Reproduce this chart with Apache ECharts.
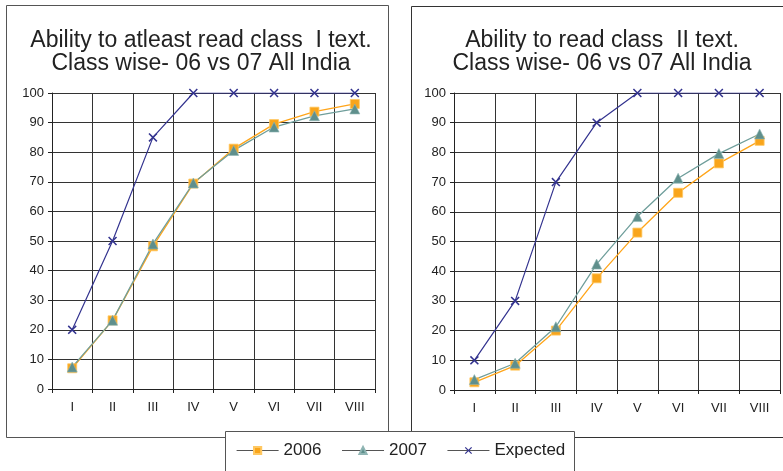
<!DOCTYPE html>
<html>
<head>
<meta charset="utf-8">
<script src="https://cdn.jsdelivr.net/npm/echarts@6/dist/echarts.min.js"></script>
<style>
html,body{margin:0;padding:0;background:#fff;}
#c{width:783px;height:471px;}
</style>
</head>
<body>
<div id="c"></div>
<script>
const categories = ['I','II','III','IV','V','VI','VII','VIII'];
const yTicks = [0,10,20,30,40,50,60,70,80,90,100];
const leftTitle = 'Ability to atleast read class  I text.\nClass wise- 06 vs 07 All India';
const rightTitle = 'Ability to read class  II text.\nClass wise- 06 vs 07 All India';
const left2006 = [7, 23.2, 48.2, 69.4, 81.2, 89.5, 93.7, 96.3];
const left2007 = [7.4, 23.2, 49, 69.6, 80.6, 88.5, 92.3, 94.6];
const leftExpected = [20, 50, 85, 100, 100, 100, 100, 100];
const right2006 = [2.6, 8.2, 20, 37.6, 53, 66.4, 76.3, 83.9];
const right2007 = [3.5, 9, 21.3, 42.4, 58.4, 71.3, 79.6, 86.2];
const rightExpected = [10, 30, 70, 90, 100, 100, 100, 100];
const seriesNames = ['2006','2007','Expected'];

const FONT = 'Liberation Sans, Arial, sans-serif';
const C06 = '#F9A51B', C07 = '#5F8F8C', CEX = '#33338F';
const XSYM = 'path://M0,1.2L1.2,0L5,3.8L8.8,0L10,1.2L6.2,5L10,8.8L8.8,10L5,6.2L1.2,10L0,8.8L3.8,5Z';

const chart = echarts.init(document.getElementById('c'), null, {renderer:'canvas'});

function xAx(gi){
  return {type:'category', gridIndex:gi, data:categories, boundaryGap:true,
    axisLine:{lineStyle:{color:'#222',width:1}},
    axisTick:{show:true,length:4,lineStyle:{color:'#222'}},
    axisLabel:{color:'#222',fontSize:13,fontFamily:FONT,margin:12},
    splitLine:{show:true,lineStyle:{color:'#333',width:1}}};
}
function yAx(gi){
  return {type:'value', gridIndex:gi, min:yTicks[0], max:yTicks[yTicks.length-1], interval:10,
    axisLine:{show:true,lineStyle:{color:'#222',width:1}},
    axisTick:{show:true,length:4,lineStyle:{color:'#222'}},
    axisLabel:{color:'#222',fontSize:13,fontFamily:FONT,margin:8},
    splitLine:{show:true,lineStyle:{color:'#333',width:1}}};
}
function s(name, data, gi, kind){
  const base = {name:name, type:'line', data:data, xAxisIndex:gi, yAxisIndex:gi, animation:false, z:5};
  if(kind===0){
    return Object.assign(base,{symbol:'rect',symbolSize:9,lineStyle:{color:'#FFA51A',width:1.3},
      itemStyle:{color:C06,borderColor:'#FFC862',borderWidth:0.8}});
  } else if(kind===1){
    return Object.assign(base,{symbol:'triangle',symbolSize:[10,10],lineStyle:{color:'#6F9E9B',width:1.3},
      itemStyle:{color:C07,borderColor:'#8FB5B3',borderWidth:0.6}});
  } else {
    return Object.assign(base,{symbol:XSYM,symbolSize:9,lineStyle:{color:CEX,width:1.2},
      itemStyle:{color:CEX}});
  }
}

const option = {
  backgroundColor:'#fff',
  animation:false,
  title:[
    {text:leftTitle,left:196,top:24,textAlign:'center',
      textStyle:{fontSize:23,fontWeight:'normal',fontFamily:FONT,color:'#222',lineHeight:23,align:'center'}},
    {text:rightTitle,left:597,top:24,textAlign:'center',
      textStyle:{fontSize:23,fontWeight:'normal',fontFamily:FONT,color:'#222',lineHeight:23,align:'center'}}
  ],
  graphic:[
    {type:'rect',shape:{x:6.5,y:5.5,width:382,height:432},style:{fill:'none',stroke:'#555',lineWidth:1},z:-1},
    {type:'rect',shape:{x:411.5,y:6.5,width:380,height:431},style:{fill:'none',stroke:'#333',lineWidth:1},z:-1},
    {type:'rect',shape:{x:225.5,y:431.5,width:349,height:60},style:{fill:'#fff',stroke:'#555',lineWidth:1},z:50}
  ],
  legend:{
    data:seriesNames, left:236, top:442, z:60, padding:0,
    itemWidth:42, itemHeight:9, itemGap:20,
    lineStyle:{color:'#555',width:1.2},
    textStyle:{fontSize:17,fontFamily:FONT,color:'#222'}
  },
  grid:[
    {left:52,right:408,top:93,bottom:82},
    {left:454,right:3,top:93,bottom:81}
  ],
  xAxis:[xAx(0),xAx(1)],
  yAxis:[yAx(0),yAx(1)],
  series:[
    s(seriesNames[0],left2006,0,0),
    s(seriesNames[1],left2007,0,1),
    s(seriesNames[2],leftExpected,0,2),
    s(seriesNames[0],right2006,1,0),
    s(seriesNames[1],right2007,1,1),
    s(seriesNames[2],rightExpected,1,2)
  ]
};
chart.setOption(option);
</script>
</body>
</html>
